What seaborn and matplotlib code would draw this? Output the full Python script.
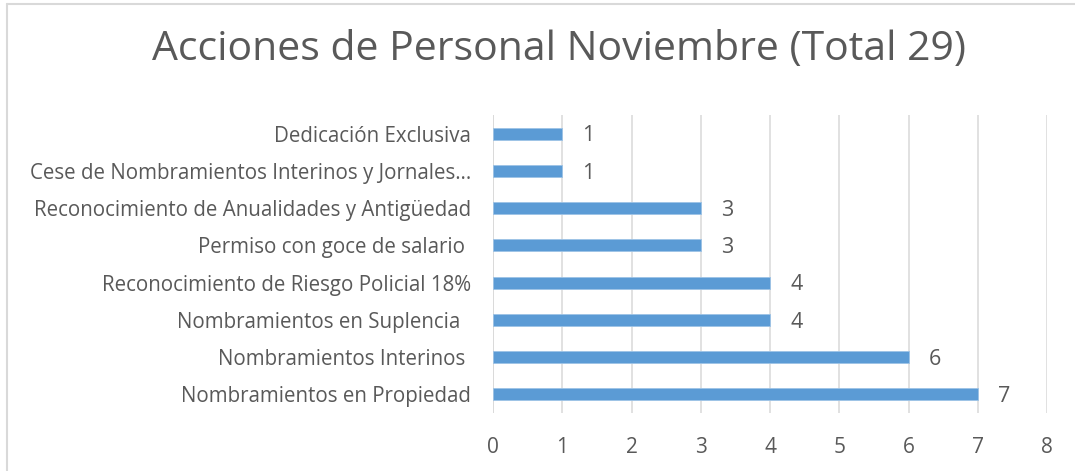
import seaborn as sns
import matplotlib.pyplot as plt
import pandas as pd

# DATA #
categories = ['Dedicación Exclusiva',
              'Cese de Nombramientos Interinos y Jornales…',
              'Reconocimiento de Anualidades y Antigüedad',
              'Permiso con goce de salario ',
              'Reconocimiento de Riesgo Policial 18%',
              'Nombramientos en Suplencia  ',
              'Nombramientos Interinos ',
              'Nombramientos en Propiedad']
values = [1, 1, 3, 3, 4, 4, 6, 7]
xticks = [0, 1, 2, 3, 4, 5, 6, 7, 8]
title = 'Acciones de Personal Noviembre (Total 29)'

df = pd.DataFrame({'Accion': categories, 'Cantidad': values})

# PLOT #
sns.set_style('white')
plt.rcParams['font.family'] = ['Open Sans', 'DejaVu Sans']
grey = '#595959'

fig = plt.figure(figsize=(10.75, 4.71), dpi=100)
ax = fig.add_axes([0.4586, 0.1231, 0.974 - 0.4586, 0.7558 - 0.1231])

sns.barplot(data=df, x='Cantidad', y='Accion', color='#5B9BD5', width=0.32,
            edgecolor='#9DC3E6', linewidth=0.6, saturation=1, ax=ax)

ax.set_xlim(0, 8)
ax.set_ylim(7.5, -0.5)
ax.set_xticks(xticks)
ax.xaxis.grid(True, color='#D9D9D9', linewidth=1.1)
ax.set_axisbelow(True)
sns.despine(ax=ax, top=True, right=True, left=True, bottom=True)
ax.axvline(0, color='#D9D9D9', linewidth=1.1, zorder=0)
ax.set_xlabel('')
ax.set_ylabel('')
ax.tick_params(axis='x', length=0, pad=17, labelsize=15, labelcolor=grey)
ax.tick_params(axis='y', length=0, pad=16, labelsize=14.8, labelcolor=grey)

for i, v in enumerate(values):
    ax.text(v + 0.29, i + 0.06, str(v), color=grey, fontsize=15.5, va='center', ha='left')

fig.text(0.52, 0.894, title, ha='center', va='center', fontsize=29.5, color=grey)

# border of the chart area
fig.add_artist(plt.Line2D([0.0065, 0.0065], [0, 0.992], color='#D9D9D9', linewidth=1.5,
                          transform=fig.transFigure))
fig.add_artist(plt.Line2D([0.0065, 1], [0.992, 0.992], color='#D9D9D9', linewidth=1.5,
                          transform=fig.transFigure))

plt.savefig('out.png', dpi=100)
